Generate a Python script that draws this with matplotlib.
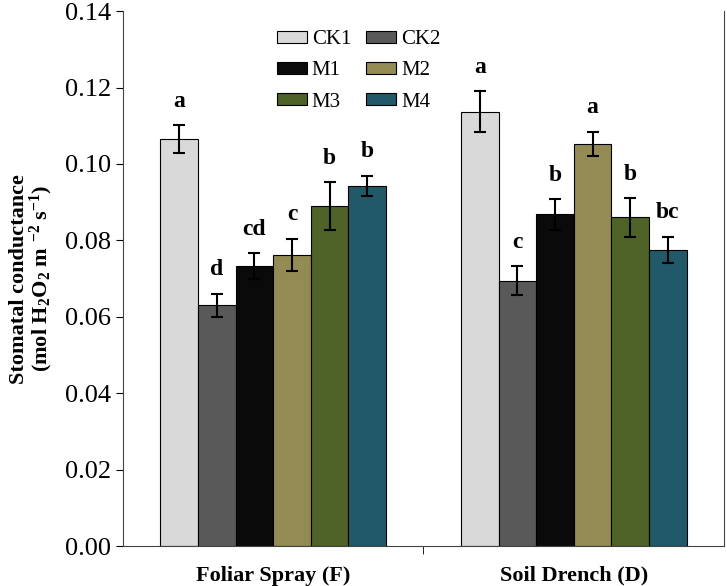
import numpy as np
import matplotlib
matplotlib.use("Agg")
import matplotlib.pyplot as plt

plt.rcParams["font.family"] = ["Liberation Serif", "DejaVu Serif"]
plt.rcParams["mathtext.fontset"] = "custom"
plt.rcParams["mathtext.rm"] = "Liberation Serif"
plt.rcParams["mathtext.bf"] = "Liberation Serif:bold"
plt.rcParams["mathtext.default"] = "bf"

# datos
groups = ["Foliar Spray (F)", "Soil Drench (D)"]
treatments = ["CK1", "CK2", "M1", "M2", "M3", "M4"]
colors = ["#d9d9d9", "#595959", "#0a0a0a", "#948a54", "#4f6228", "#215968"]

foliar_mean = [0.1065, 0.0630, 0.0733, 0.0763, 0.0890, 0.0942]
foliar_err = [0.0037, 0.0031, 0.0033, 0.0042, 0.0062, 0.0027]
foliar_letters = ["a", "d", "cd", "c", "b", "b"]

soil_mean = [0.1137, 0.0695, 0.0868, 0.1053, 0.0860, 0.0775]
soil_err = [0.0053, 0.0037, 0.0040, 0.0032, 0.0050, 0.0035]
soil_letters = ["a", "c", "b", "a", "b", "bc"]

means = [foliar_mean, soil_mean]
errs = [foliar_err, soil_err]
letters = [foliar_letters, soil_letters]

fig = plt.figure(figsize=(7.27, 5.86), dpi=100)
ax = fig.add_axes([0.169, 0.068, 0.827, 0.913])

width = 0.125
centers = np.arange(len(groups)) + 0.5
handles = []
for i, t in enumerate(treatments):
    x = centers + (i - 2.5) * width
    vals = [means[g][i] for g in range(len(groups))]
    ee = [errs[g][i] for g in range(len(groups))]
    h = ax.bar(x, vals, width, color=colors[i], edgecolor="black", linewidth=0.8,
               label=t, zorder=2)
    handles.append(h)
    ax.errorbar(x, vals, yerr=ee, fmt="none", ecolor="black", elinewidth=1.5,
                capsize=4, capthick=1.5, zorder=3)
    for g in range(len(groups)):
        ax.text(x[g], vals[g] + ee[g] + 0.0035, letters[g][i], ha="center",
                va="bottom", fontsize=17, fontweight="bold")

ax.set_xlim(0, 2)
ax.set_ylim(0, 0.14)
ax.set_yticks(np.arange(0, 0.141, 0.02))
ax.set_yticklabels([f"{v:.2f}" for v in np.arange(0, 0.141, 0.02)], fontsize=19)
ax.set_xticks(centers)
ax.set_xticklabels(groups, fontsize=16, fontweight="bold")
ax.tick_params(axis="x", which="major", length=0, pad=14)
ax.set_xticks([1], minor=True)
ax.tick_params(axis="x", which="minor", length=6, direction="out")
ax.tick_params(axis="y", length=5, direction="out")
ax.spines["top"].set_visible(False)
for s in ["left", "bottom", "right"]:
    ax.spines[s].set_color("#444444")

ax.set_ylabel("Stomatal conductance\n(mol H$_2$O$_2$ m $^{-2}$ s$^{-1}$)",
              fontsize=16, fontweight="bold", labelpad=7, linespacing=0.95)

# leyenda por filas: CK1 CK2 / M1 M2 / M3 M4
order = [0, 2, 4, 1, 3, 5]
ax.legend([handles[k] for k in order], [treatments[k] for k in order],
          ncol=2, frameon=False, fontsize=15, loc="upper left",
          bbox_to_anchor=(0.256, 0.964), handlelength=1.44, handleheight=0.48,
          columnspacing=0.72, handletextpad=0.24, labelspacing=0.58,
          borderaxespad=0, borderpad=0)

plt.savefig("out.png", dpi=100)
